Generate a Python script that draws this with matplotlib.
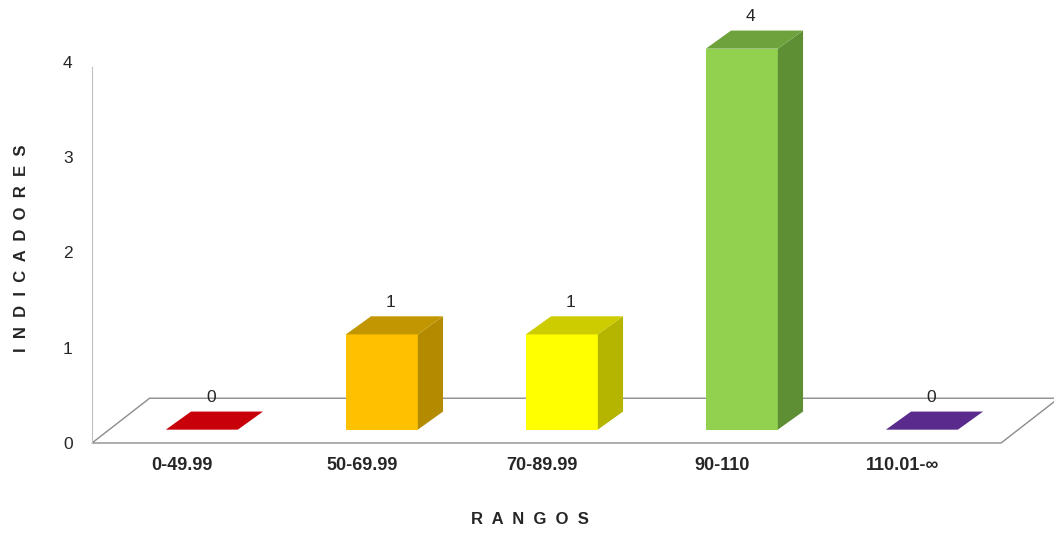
import matplotlib.pyplot as plt
from matplotlib.patches import Polygon

plt.rcParams['font.family'] = ['Liberation Sans', 'DejaVu Sans']

# chart data
categories = ['0-49.99', '50-69.99', '70-89.99', '90-110', '110.01-∞']
values = [0, 1, 1, 4, 0]
front_colors = ['#c8000a', '#ffc000', '#ffff00', '#92d050', '#5a2a8c']
side_colors = ['#9a0008', '#b38a00', '#b5b500', '#5f8f35', '#44206b']
top_colors = ['#c8000a', '#c29600', '#cccc00', '#6ea23c', '#5a2a8c']

# pseudo-3d geometry (in data units)
BAR_W = 0.40
BAR_SHIFT = 0.11
BASE = 0.14
DX, DY = 0.14, 0.19
FLOOR_DX, FLOOR_DY = 0.32, 0.47

W, H = 1054, 533
fig = plt.figure(figsize=(W / 100, H / 100), dpi=100)
ax = fig.add_axes([92 / W, (H - 443) / H, (W - 92) / W, (443 - 62) / H])
ax.set_xlim(-0.5, 4.844)
ax.set_ylim(0, 4)

# floor
n = len(categories)
fl, fr = -0.5, n - 0.45
floor = Polygon([(fl, 0), (fr, 0), (fr + FLOOR_DX, FLOOR_DY), (fl + FLOOR_DX, FLOOR_DY)],
                closed=True, facecolor='white', edgecolor='#8c8c8c', lw=1.0,
                clip_on=False, zorder=1)
ax.add_patch(floor)

for i, (v, fc, sc, tc) in enumerate(zip(values, front_colors, side_colors, top_colors)):
    x0 = i + BAR_SHIFT - BAR_W / 2
    x1 = i + BAR_SHIFT + BAR_W / 2
    y0 = BASE
    y1 = BASE + v
    if v > 0:
        ax.add_patch(Polygon([(x0, y0), (x1, y0), (x1, y1), (x0, y1)],
                             facecolor=fc, edgecolor='none', clip_on=False, zorder=3))
        ax.add_patch(Polygon([(x1, y0), (x1 + DX, y0 + DY), (x1 + DX, y1 + DY), (x1, y1)],
                             facecolor=sc, edgecolor='none', clip_on=False, zorder=3))
    ax.add_patch(Polygon([(x0, y1), (x1, y1), (x1 + DX, y1 + DY), (x0 + DX, y1 + DY)],
                         facecolor=tc, edgecolor='none', clip_on=False, zorder=3))
    ax.text(i + 0.16, y1 + DY + 0.07, str(v), ha='center', va='bottom',
            fontsize=12.5, color='#262626', clip_on=False, zorder=4)

ax.set_xticks(range(n))
ax.set_xticklabels(categories, fontsize=13, fontweight='bold', color='#262626')
ax.set_yticks(range(5))
ax.set_yticklabels([str(t) for t in range(5)], fontsize=12.5, color='#262626')
ax.tick_params(axis='x', length=0, pad=10)
ax.tick_params(axis='y', length=0, pad=14)

for side in ['top', 'right', 'bottom']:
    ax.spines[side].set_visible(False)
ax.spines['left'].set_color('#c0c0c0')
ax.spines['left'].set_bounds(0, 3.95)

fig.text(22 / W, 1 - 248 / H, 'I  N  D  I  C  A  D  O  R  E  S', rotation=90,
         ha='center', va='center', fontsize=12, fontweight='bold', color='#262626')
fig.text(530 / W, 1 - 520 / H, 'R  A  N  G  O  S', ha='center', va='center',
         fontsize=12, fontweight='bold', color='#262626')

fig.savefig('out.png', dpi=100, facecolor='white')
